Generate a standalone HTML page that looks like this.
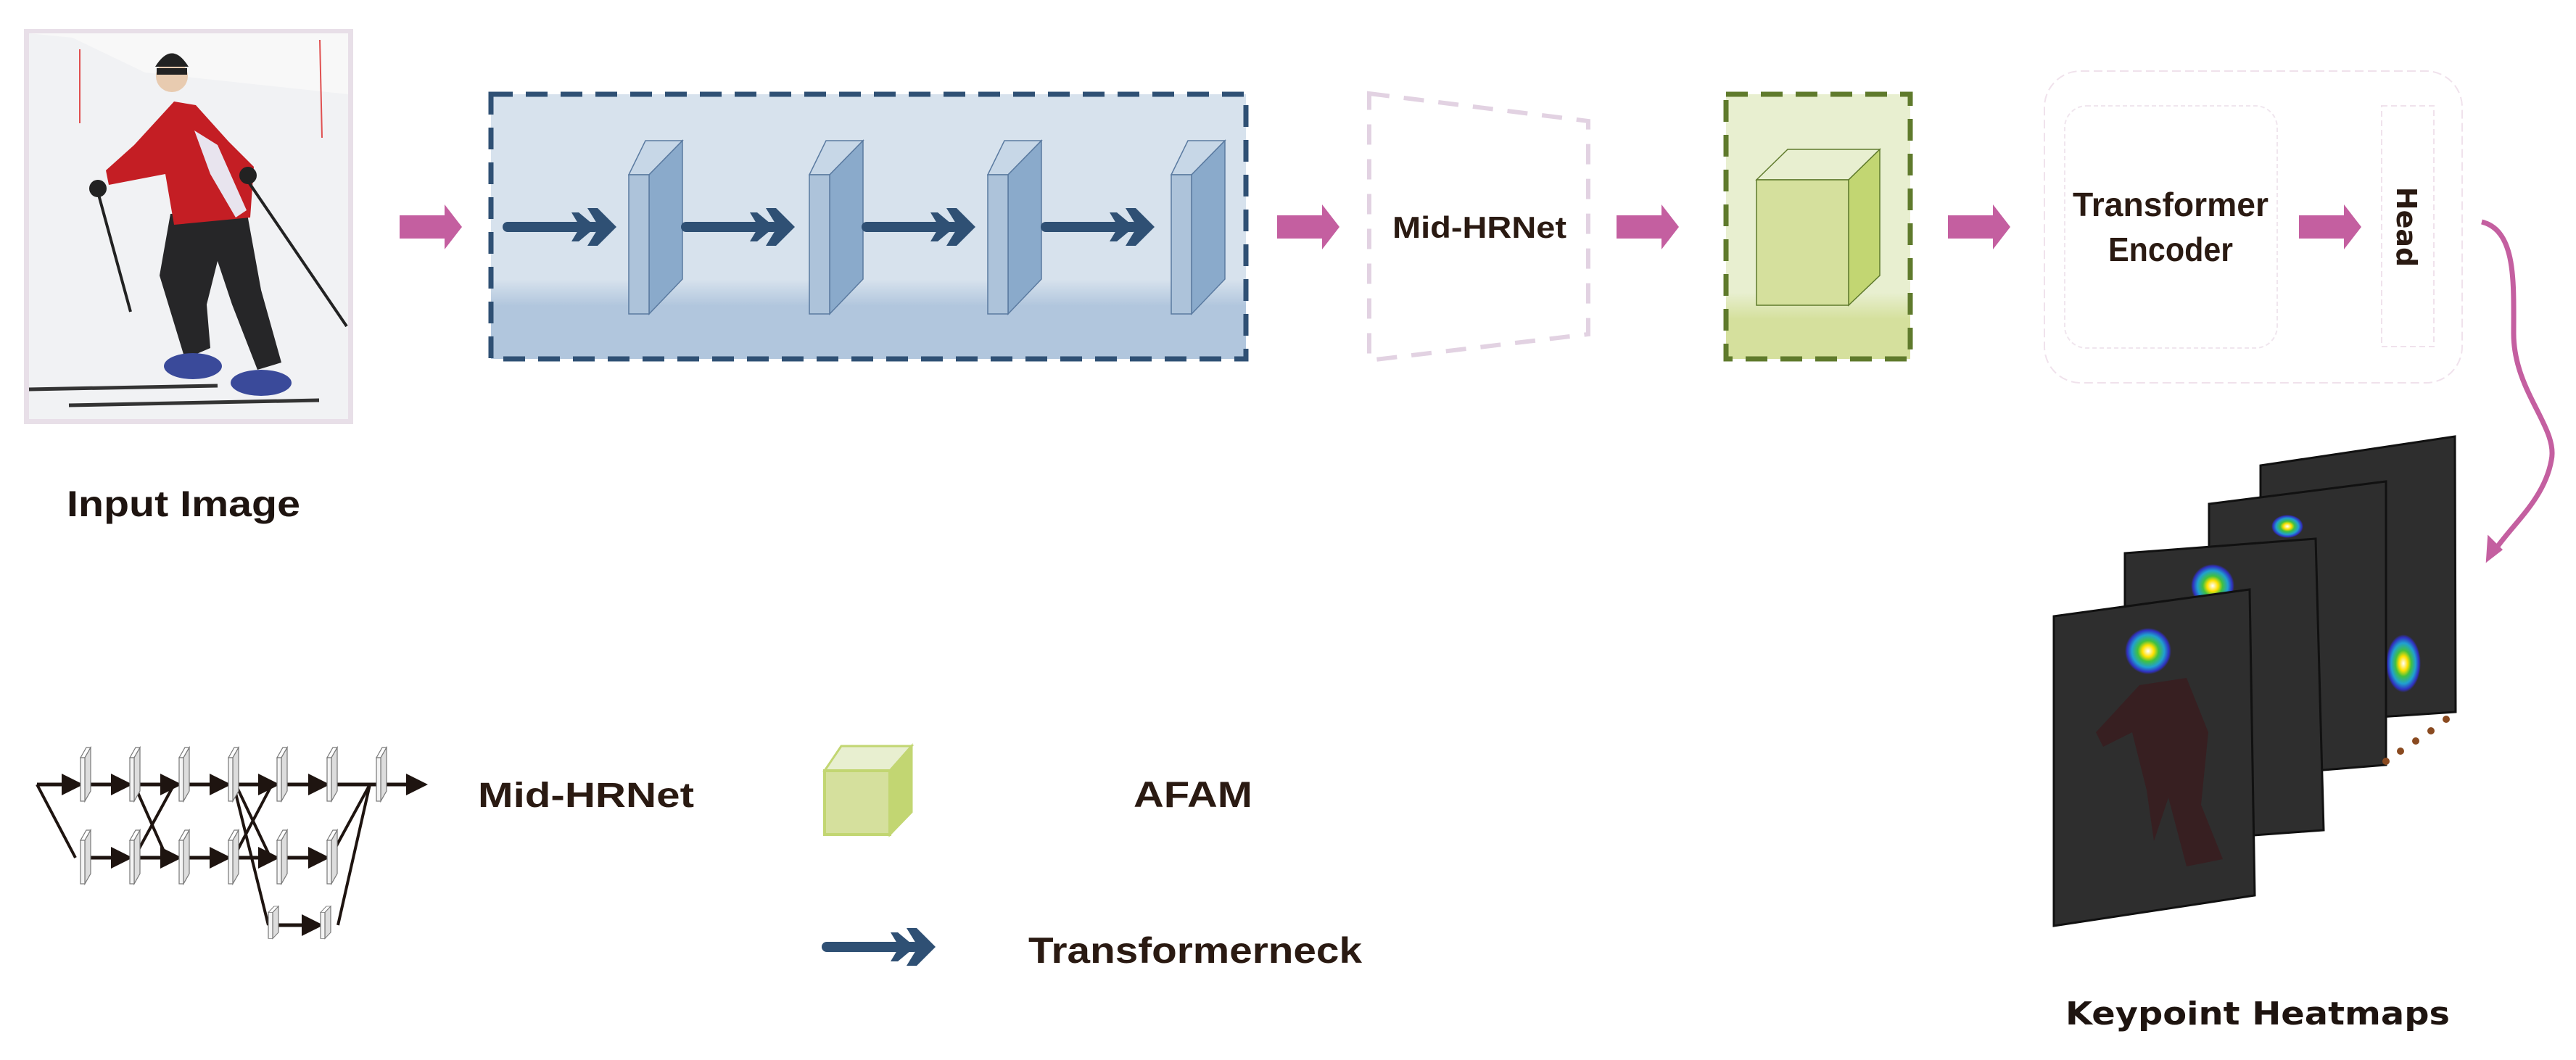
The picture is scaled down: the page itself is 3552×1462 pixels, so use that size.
<!DOCTYPE html>
<html><head><meta charset="utf-8"><style>html,body{margin:0;padding:0;background:#fff}svg{display:block}</style></head>
<body>
<svg width="3552" height="1462" viewBox="0 0 3552 1462" xmlns="http://www.w3.org/2000/svg">
<defs>
<linearGradient id="bg1" x1="0" y1="0" x2="0" y2="1">
<stop offset="0" stop-color="#d7e2ed"/><stop offset="0.7" stop-color="#d7e2ed"/><stop offset="0.8" stop-color="#b1c6dd"/><stop offset="1" stop-color="#b1c6dd"/></linearGradient>
<linearGradient id="bg2" x1="0" y1="0" x2="0" y2="1">
<stop offset="0" stop-color="#e8efd0"/><stop offset="0.75" stop-color="#e8efd0"/><stop offset="0.85" stop-color="#d5e09d"/><stop offset="1" stop-color="#d5e09d"/></linearGradient>
<radialGradient id="hm"><stop offset="0" stop-color="#fff"/><stop offset="0.25" stop-color="#ffe000"/><stop offset="0.45" stop-color="#40c040"/><stop offset="0.7" stop-color="#20a0d0"/><stop offset="0.9" stop-color="#3030c0"/><stop offset="1" stop-color="#3030c0" stop-opacity="0"/></radialGradient>
<g id="pk"><rect x="0" y="15" width="66" height="32" fill="#c45fa0"/><polygon points="62,0 86,31 62,62" fill="#c45fa0"/></g>
<g id="tn"><line x1="0" y1="0" x2="120" y2="0" stroke="#2f5074" stroke-width="14" stroke-linecap="round"/>
<polygon points="88,-20 98,-20 122,0 98,20 88,20 100,0" fill="#2f5074"/>
<polygon points="110,-26 124,-26 150,0 124,26 110,26 126,0" fill="#2f5074"/></g>
<g id="slab"><polygon points="0,47 23,0 74,0 28,47" fill="#c7d7e7" stroke="#5a7aa0" stroke-width="1.5"/>
<polygon points="28,47 74,0 74,191 28,239" fill="#8aaacb" stroke="#5a7aa0" stroke-width="1.5"/>
<rect x="0" y="47" width="28" height="192" fill="#adc3da" stroke="#5a7aa0" stroke-width="1.5"/></g>
<g id="ms"><polygon points="0,14 8,0 14,0 6,14" fill="#fff" stroke="#777" stroke-width="1.2"/><polygon points="6,14 14,0 14,60 6,74" fill="#ddd" stroke="#777" stroke-width="1.2"/><rect x="0" y="14" width="6" height="60" fill="#f4f4f4" stroke="#777" stroke-width="1.2"/></g>
<marker id="ma" markerWidth="6" markerHeight="6" refX="4" refY="3" orient="auto"><path d="M0,0 L6,3 L0,6 z" fill="#1e1410"/></marker>
</defs>

<!-- input photo -->
<rect x="33" y="40" width="454" height="545" fill="#e8dfe8"/>
<rect x="40" y="46" width="440" height="532" fill="#f1f2f4"/>
<polygon points="40,46 100,52 200,100 480,130 480,46" fill="#f8f8f8"/>
<line x1="110" y1="68" x2="110" y2="170" stroke="#e05050" stroke-width="2"/>
<line x1="441" y1="55" x2="444" y2="190" stroke="#e05050" stroke-width="2"/>
<path d="M235,295 L340,290 L360,400 L388,500 L355,510 L320,420 L300,360 L285,420 L290,480 L255,495 L220,380 Z" fill="#262628"/>
<ellipse cx="266" cy="505" rx="40" ry="18" fill="#3a4a9a"/><ellipse cx="360" cy="528" rx="42" ry="18" fill="#3a4a9a"/>
<line x1="40" y1="537" x2="300" y2="532" stroke="#333" stroke-width="5"/>
<line x1="95" y1="559" x2="440" y2="552" stroke="#333" stroke-width="5"/>
<path d="M185,200 L240,140 L270,145 L315,195 L350,230 L345,300 L240,310 L228,240 L150,255 L146,235 Z" fill="#c41e24"/>
<path d="M268,180 L290,240 L325,300 L340,290 L300,200 Z" fill="#e8e4ee"/>
<circle cx="237" cy="105" r="22" fill="#e8cbb0"/>
<path d="M214,92 Q237,55 260,92 Z" fill="#222"/>
<rect x="216" y="94" width="42" height="9" fill="#222"/>
<circle cx="135" cy="260" r="12" fill="#222"/><circle cx="342" cy="242" r="12" fill="#222"/>
<line x1="135" y1="265" x2="180" y2="430" stroke="#222" stroke-width="4"/>
<line x1="342" y1="250" x2="478" y2="450" stroke="#222" stroke-width="4"/>
<text x="253" y="712" text-anchor="middle" font-family="Liberation Sans,sans-serif" font-weight="bold" font-size="50" fill="#1e1410" textLength="322" lengthAdjust="spacingAndGlyphs">Input Image</text>

<use href="#pk" x="551" y="282"/>

<rect x="677" y="130" width="1041" height="365" fill="url(#bg1)" stroke="#2f5074" stroke-width="7" stroke-dasharray="30,18"/>
<use href="#tn" x="700" y="313"/>
<use href="#slab" x="867" y="194"/>
<use href="#tn" x="946" y="313"/>
<use href="#slab" x="1116" y="194"/>
<use href="#tn" x="1195" y="313"/>
<use href="#slab" x="1362" y="194"/>
<use href="#tn" x="1442" y="313"/>
<use href="#slab" x="1615" y="194"/>

<use href="#pk" x="1761" y="282"/>
<polygon points="1888,129 2190,167 2190,461 1888,497" fill="none" stroke="#e2d2e2" stroke-width="6" stroke-dasharray="28,20"/>
<text x="2040" y="328" text-anchor="middle" font-family="Liberation Sans,sans-serif" font-weight="bold" font-size="42" fill="#2a1a12" textLength="240" lengthAdjust="spacingAndGlyphs">Mid-HRNet</text>

<use href="#pk" x="2229" y="282"/>
<rect x="2380" y="130" width="254" height="365" fill="url(#bg2)" stroke="#5f7a2c" stroke-width="7" stroke-dasharray="30,18"/>
<polygon points="2422,248 2465,206 2592,206 2549,248" fill="#e8efd0" stroke="#5f7a2c" stroke-width="1.5"/>
<polygon points="2549,248 2592,206 2592,380 2549,421" fill="#c2d672" stroke="#5f7a2c" stroke-width="1.5"/>
<rect x="2422" y="248" width="127" height="173" fill="#d5e09d" stroke="#5f7a2c" stroke-width="1.5"/>

<use href="#pk" x="2686" y="282"/>
<rect x="2819" y="98" width="576" height="430" rx="50" fill="none" stroke="#f0e2ec" stroke-width="2" stroke-dasharray="12,6"/>
<rect x="2847" y="146" width="293" height="334" rx="30" fill="none" stroke="#f0e6ee" stroke-width="2" stroke-dasharray="6,4"/>
<text x="2993" y="298" text-anchor="middle" font-family="Liberation Sans,sans-serif" font-weight="bold" font-size="46" fill="#2a1a12" textLength="270" lengthAdjust="spacingAndGlyphs">Transformer</text>
<text x="2993" y="360" text-anchor="middle" font-family="Liberation Sans,sans-serif" font-weight="bold" font-size="46" fill="#2a1a12" textLength="172" lengthAdjust="spacingAndGlyphs">Encoder</text>
<use href="#pk" x="3170" y="282"/>
<rect x="3284" y="146" width="72" height="332" fill="none" stroke="#f0e2ec" stroke-width="2" stroke-dasharray="8,5"/>
<text transform="translate(3305,313) rotate(90)" text-anchor="middle" font-family="DejaVu Sans,sans-serif" font-weight="bold" font-size="38" fill="#2a1a12">Head</text>

<path d="M3422,306 C3470,318 3466,390 3466,460 C3466,540 3528,590 3518,635 C3508,690 3462,725 3438,762" fill="none" stroke="#c45fa0" stroke-width="7"/>
<polygon points="3430,772 3432,742 3448,758" fill="#c45fa0" stroke="#c45fa0" stroke-width="4"/>

<!-- heatmap frames -->
<polygon points="3117,642 3385,602 3386,982 3117,1000" fill="#2e2e2e" stroke="#111" stroke-width="3"/>
<ellipse cx="3314" cy="915" rx="24" ry="40" fill="url(#hm)"/>
<polygon points="3046,695 3290,664 3290,1055 3046,1075" fill="#2e2e2e" stroke="#111" stroke-width="3"/>
<ellipse cx="3154" cy="726" rx="22" ry="16" fill="url(#hm)"/>
<polygon points="2930,763 3193,743 3204,1145 2930,1165" fill="#2e2e2e" stroke="#111" stroke-width="3"/>
<circle cx="3051" cy="808" r="30" fill="url(#hm)"/>
<polygon points="2832,850 3102,813 3109,1235 2832,1277" fill="#2e2e2e" stroke="#111" stroke-width="3"/>
<circle cx="2962" cy="898" r="32" fill="url(#hm)"/>
<path d="M2950,945 L3015,935 L3045,1010 L3035,1110 L3065,1185 L3015,1195 L2990,1100 L2970,1160 L2960,1090 L2940,1010 L2900,1030 L2890,1010 Z" fill="#3a1c1e" opacity="0.8"/>
<g fill="#8a4a20"><circle cx="3290" cy="1050" r="5"/><circle cx="3310" cy="1036" r="5"/><circle cx="3331" cy="1022" r="5"/><circle cx="3352" cy="1008" r="5"/><circle cx="3373" cy="992" r="5"/></g>
<text x="3113" y="1413" text-anchor="middle" font-family="DejaVu Sans,sans-serif" font-weight="bold" font-size="44" fill="#1e1410" textLength="530" lengthAdjust="spacingAndGlyphs">Keypoint Heatmaps</text>

<!-- legend mini HRNet -->
<g stroke="#1e1410" stroke-width="5" fill="none" marker-end="url(#ma)">
<line x1="51" y1="1082" x2="105" y2="1082"/><line x1="122" y1="1082" x2="173" y2="1082"/><line x1="190" y1="1082" x2="241" y2="1082"/>
<line x1="258" y1="1082" x2="309" y2="1082"/><line x1="326" y1="1082" x2="376" y2="1082"/><line x1="393" y1="1082" x2="445" y2="1082"/><line x1="462" y1="1082" x2="580" y2="1082"/>
<line x1="122" y1="1183" x2="173" y2="1183"/><line x1="190" y1="1183" x2="241" y2="1183"/><line x1="258" y1="1183" x2="309" y2="1183"/><line x1="326" y1="1183" x2="376" y2="1183"/><line x1="393" y1="1183" x2="445" y2="1183"/>
<line x1="382" y1="1276" x2="436" y2="1276"/>
</g>
<g stroke="#1e1410" stroke-width="4" fill="none">
<line x1="51" y1="1082" x2="104" y2="1183"/><line x1="185" y1="1082" x2="230" y2="1183"/><line x1="185" y1="1183" x2="240" y2="1082"/>
<line x1="322" y1="1082" x2="370" y2="1276"/><line x1="325" y1="1082" x2="373" y2="1183"/><line x1="322" y1="1183" x2="375" y2="1082"/>
<line x1="510" y1="1082" x2="455" y2="1183"/><line x1="510" y1="1082" x2="466" y2="1276"/>
</g>
<use href="#ms" x="111" y="1031"/><use href="#ms" x="179" y="1031"/><use href="#ms" x="247" y="1031"/><use href="#ms" x="315" y="1031"/><use href="#ms" x="382" y="1031"/><use href="#ms" x="451" y="1031"/><use href="#ms" x="519" y="1031"/>
<use href="#ms" x="111" y="1145"/><use href="#ms" x="179" y="1145"/><use href="#ms" x="247" y="1145"/><use href="#ms" x="315" y="1145"/><use href="#ms" x="382" y="1145"/><use href="#ms" x="451" y="1145"/>
<g transform="translate(370,1250) scale(1,0.6)"><use href="#ms"/></g><g transform="translate(442,1250) scale(1,0.6)"><use href="#ms"/></g>
<text x="808" y="1113" text-anchor="middle" font-family="Liberation Sans,sans-serif" font-weight="bold" font-size="48" fill="#2a1a12" textLength="298" lengthAdjust="spacingAndGlyphs">Mid-HRNet</text>

<polygon points="1137,1063 1160,1029 1257,1029 1227,1063" fill="#e8efd0" stroke="#c2d672" stroke-width="3"/>
<polygon points="1227,1063 1257,1029 1257,1120 1227,1151" fill="#c2d672" stroke="#c2d672" stroke-width="3"/>
<rect x="1137" y="1063" width="90" height="88" fill="#d5e09d" stroke="#c2d672" stroke-width="4"/>
<text x="1645" y="1113" text-anchor="middle" font-family="Liberation Sans,sans-serif" font-weight="bold" font-size="50" fill="#2a1a12" textLength="164" lengthAdjust="spacingAndGlyphs">AFAM</text>

<g transform="translate(1140,1306)"><use href="#tn"/></g>
<text x="1648" y="1328" text-anchor="middle" font-family="Liberation Sans,sans-serif" font-weight="bold" font-size="50" fill="#2a1a12" textLength="460" lengthAdjust="spacingAndGlyphs">Transformerneck</text>
</svg>
</body></html>
